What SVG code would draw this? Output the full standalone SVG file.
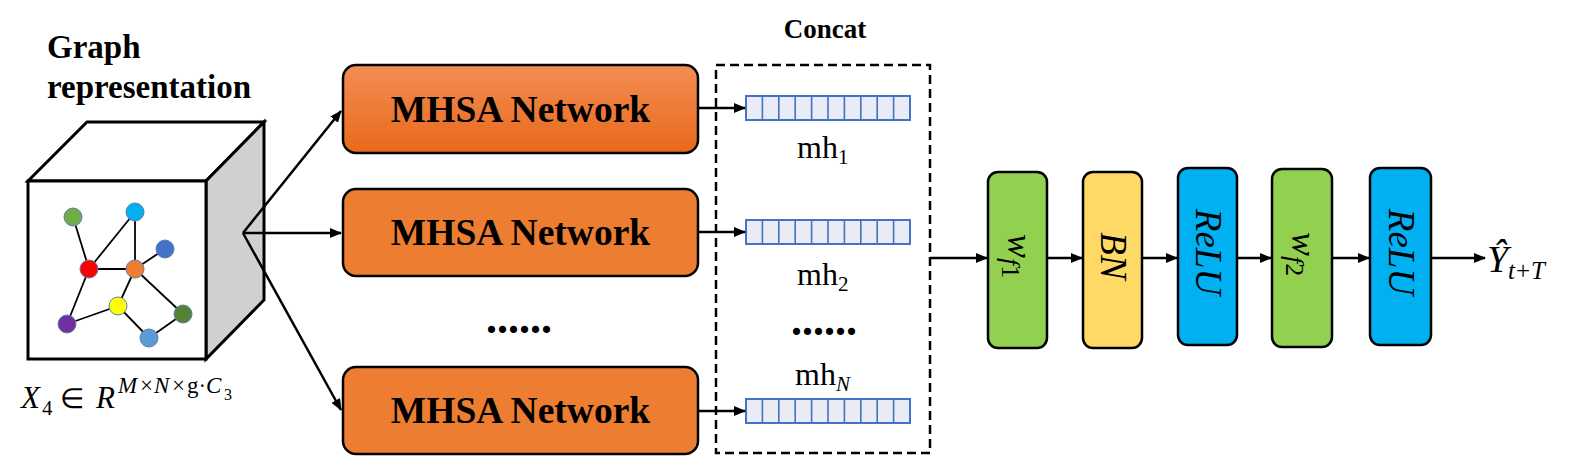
<svg xmlns="http://www.w3.org/2000/svg" width="1575" height="458" viewBox="0 0 1575 458">
<defs>
<linearGradient id="og" x1="0" y1="0" x2="0" y2="1">
<stop offset="0" stop-color="#f38d55"/>
<stop offset="1" stop-color="#e8691a"/>
</linearGradient>
<marker id="ah" viewBox="0 0 12 10" refX="11" refY="5" markerWidth="12" markerHeight="10" markerUnits="userSpaceOnUse" orient="auto">
<path d="M0,0 L12,5 L0,10 Z" fill="#000"/>
</marker>
<g id="bar">
<rect x="0" y="0" width="164" height="24" fill="#e9ecf5" stroke="#4472c4" stroke-width="2"/>
<path d="M16.4,0v24M32.8,0v24M49.2,0v24M65.6,0v24M82,0v24M98.4,0v24M114.8,0v24M131.2,0v24M147.6,0v24" stroke="#4472c4" stroke-width="1.6"/>
</g>
</defs>
<style>
.bold{font-family:"Liberation Serif","Times New Roman",serif;font-weight:bold;fill:#000}
.math{font-family:"Liberation Serif","Times New Roman",serif;fill:#000}
.it{font-style:italic}
.mhsa{stroke:#000;stroke-width:2.5}
.blk{stroke:#000;stroke-width:2.5}
.conn{stroke:#000;stroke-width:2.5;fill:none}
.edge{stroke:#000;stroke-width:1.8}
.gn{stroke:#5b7fae;stroke-width:1}
</style>
<rect width="1575" height="458" fill="#fff"/>

<g id="graph-title">
<text class="bold" x="47" y="58" font-size="33">Graph</text>
<text class="bold" x="47" y="98" font-size="33">representation</text>
</g>

<g id="cube">
<polygon points="28,181 87,122 264,122 206,181" fill="#fff" stroke="#000" stroke-width="3" stroke-linejoin="miter"/>
<polygon points="206,181 264,122 264,300 206,359" fill="#d0d0d0" stroke="#000" stroke-width="3"/>
<rect x="28" y="181" width="178" height="178" fill="#fff" stroke="#000" stroke-width="3"/>
<g id="graph">
<line class="edge" x1="73" y1="217" x2="89" y2="269"/>
<line class="edge" x1="89" y1="269" x2="135" y2="212"/>
<line class="edge" x1="135" y1="212" x2="135" y2="269"/>
<line class="edge" x1="89" y1="269" x2="135" y2="269"/>
<line class="edge" x1="135" y1="269" x2="165" y2="249"/>
<line class="edge" x1="89" y1="269" x2="67" y2="324"/>
<line class="edge" x1="135" y1="269" x2="118" y2="306"/>
<line class="edge" x1="118" y1="306" x2="67" y2="324"/>
<line class="edge" x1="135" y1="269" x2="183" y2="314"/>
<line class="edge" x1="118" y1="306" x2="149" y2="338"/>
<line class="edge" x1="149" y1="338" x2="183" y2="314"/>
<circle class="gn" cx="73" cy="217" r="9" fill="#70ad47"/>
<circle class="gn" cx="135" cy="212" r="9" fill="#00b0f0"/>
<circle class="gn" cx="165" cy="249" r="9" fill="#4472c4"/>
<circle class="gn" cx="89" cy="269" r="9" fill="#ff0000"/>
<circle class="gn" cx="135" cy="269" r="9" fill="#ed7d31"/>
<circle class="gn" cx="118" cy="306" r="9" fill="#ffff00"/>
<circle class="gn" cx="183" cy="314" r="9" fill="#548235"/>
<circle class="gn" cx="67" cy="324" r="9" fill="#7030a0"/>
<circle class="gn" cx="149" cy="338" r="9" fill="#5b9bd5"/>
</g>
</g>

<g id="input-label">
<text class="math" font-size="31"><tspan class="it" x="21" y="408">X</tspan><tspan x="42" y="415" font-size="21">4</tspan><tspan x="60" y="408" font-size="28">∈</tspan><tspan class="it" x="96" y="408">R</tspan><tspan class="it" x="118" y="393" font-size="23">M</tspan><tspan x="140" y="393" font-size="23">×</tspan><tspan class="it" x="154" y="393" font-size="23">N</tspan><tspan x="172" y="393" font-size="23">×</tspan><tspan x="187" y="393" font-size="23">g·</tspan><tspan class="it" x="206" y="393" font-size="23">C</tspan><tspan x="224" y="400" font-size="16">3</tspan></text>
</g>

<g id="mhsa1">
<rect class="mhsa" x="343" y="65" width="355" height="88" rx="13" fill="url(#og)"/>
<text class="bold" x="520.5" y="122" font-size="37.5" text-anchor="middle">MHSA Network</text>
</g>
<g id="mhsa2">
<rect class="mhsa" x="343" y="189" width="355" height="87" rx="13" fill="#ed7d31"/>
<text class="bold" x="520.5" y="245" font-size="37.5" text-anchor="middle">MHSA Network</text>
</g>
<g id="mhsa-dots">
<text class="bold" x="519" y="333" font-size="44" text-anchor="middle">......</text>
</g>
<g id="mhsa3">
<rect class="mhsa" x="343" y="367" width="355" height="87" rx="13" fill="#ed7d31"/>
<text class="bold" x="520.5" y="423" font-size="37.5" text-anchor="middle">MHSA Network</text>
</g>

<g id="concat">
<text class="bold" x="825" y="38" font-size="27" text-anchor="middle">Concat</text>
<rect x="716" y="65" width="214" height="388" fill="none" stroke="#000" stroke-width="2.5" stroke-dasharray="9,5"/>
<use href="#bar" x="746" y="96"/>
<use href="#bar" x="746" y="220"/>
<use href="#bar" x="746" y="399"/>
<text class="math" font-size="32" x="797" y="158">mh<tspan font-size="21" dy="6">1</tspan></text>
<text class="math" font-size="32" x="797" y="285">mh<tspan font-size="21" dy="6">2</tspan></text>
<text class="bold" x="824" y="335" font-size="44" text-anchor="middle">......</text>
<text class="math" font-size="32" x="795" y="385">mh<tspan class="it" font-size="21" dy="6">N</tspan></text>
</g>

<g id="wf1">
<rect class="blk" x="988" y="172" width="59" height="176" rx="10" fill="#92d050"/>
<text class="math it" transform="translate(1017.5,256) rotate(90)" text-anchor="middle" dy="10" font-size="36">w<tspan font-size="26" dy="6">f</tspan><tspan font-size="26" font-style="normal">1</tspan></text>
</g>
<g id="bn">
<rect class="blk" x="1083" y="172" width="59" height="176" rx="10" fill="#ffd966"/>
<text class="math it" transform="translate(1112.5,256) rotate(90)" text-anchor="middle" dy="12" font-size="37">BN</text>
</g>
<g id="relu1">
<rect class="blk" x="1178" y="168" width="59" height="177" rx="10" fill="#00b0f0"/>
<text class="math it" transform="translate(1207.5,252) rotate(90)" text-anchor="middle" dy="12" font-size="37">ReLU</text>
</g>
<g id="wf2">
<rect class="blk" x="1272" y="169" width="60" height="178" rx="10" fill="#92d050"/>
<text class="math it" transform="translate(1302,254) rotate(90)" text-anchor="middle" dy="10" font-size="36">w<tspan font-size="26" dy="6">f</tspan><tspan font-size="26" font-style="normal">2</tspan></text>
</g>
<g id="relu2">
<rect class="blk" x="1370" y="168" width="61" height="177" rx="10" fill="#00b0f0"/>
<text class="math it" transform="translate(1400.5,252) rotate(90)" text-anchor="middle" dy="12" font-size="37">ReLU</text>
</g>
<g id="output-label">
<text class="math it" font-size="38" x="1487" y="272">Ŷ<tspan font-size="25" x="1508" y="279">t</tspan><tspan font-size="25" font-style="normal" dx="1">+</tspan><tspan font-size="25" dx="1">T</tspan></text>
</g>

<g id="connectors">
<line class="conn" x1="243" y1="233" x2="341" y2="111" marker-end="url(#ah)"/>
<line class="conn" x1="243" y1="233" x2="341" y2="233" marker-end="url(#ah)"/>
<line class="conn" x1="243" y1="233" x2="341" y2="410" marker-end="url(#ah)"/>
<line class="conn" x1="698" y1="108" x2="745" y2="108" marker-end="url(#ah)"/>
<line class="conn" x1="698" y1="232" x2="745" y2="232" marker-end="url(#ah)"/>
<line class="conn" x1="698" y1="411" x2="745" y2="411" marker-end="url(#ah)"/>
<line class="conn" x1="930" y1="258" x2="987" y2="258" marker-end="url(#ah)"/>
<line class="conn" x1="1047" y1="258" x2="1082" y2="258" marker-end="url(#ah)"/>
<line class="conn" x1="1142" y1="258" x2="1177" y2="258" marker-end="url(#ah)"/>
<line class="conn" x1="1237" y1="258" x2="1271" y2="258" marker-end="url(#ah)"/>
<line class="conn" x1="1332" y1="258" x2="1369" y2="258" marker-end="url(#ah)"/>
<line class="conn" x1="1431" y1="258" x2="1485" y2="258" marker-end="url(#ah)"/>
</g>
</svg>
